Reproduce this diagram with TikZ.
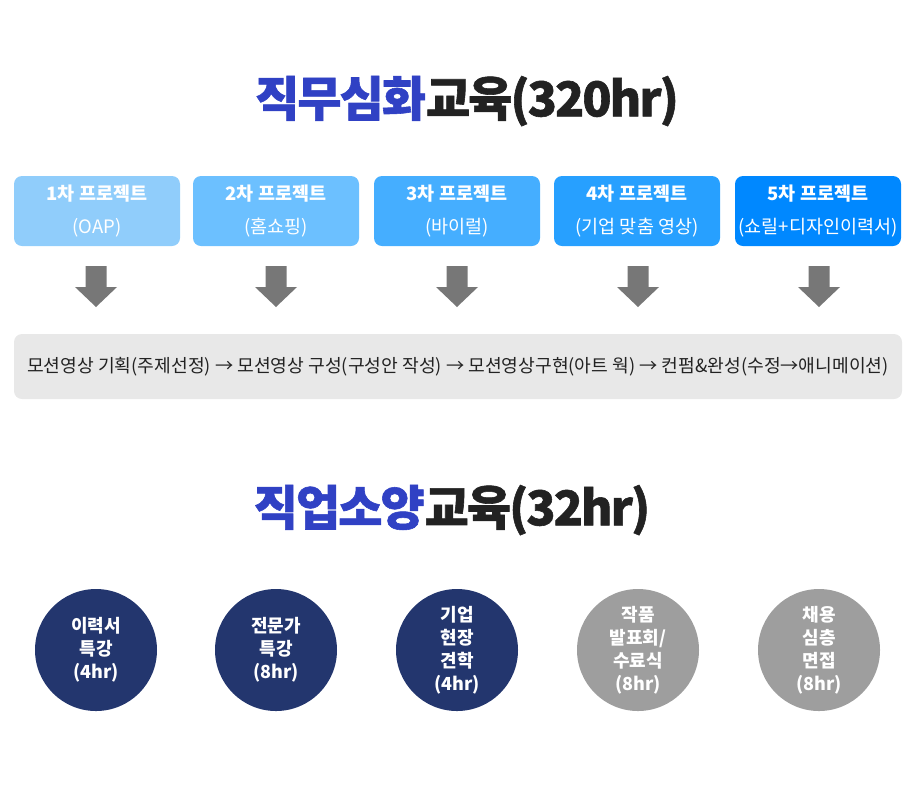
\documentclass[tikz,border=0pt]{standalone}
\usepackage{fontspec}
\setmainfont{Noto Sans CJK KR}
\newfontfamily\titlefont{Noto Sans CJK KR}[LetterSpace=-4, BoldFeatures={FakeBold=1.2}]
\definecolor{titleblue}{HTML}{3041C4}
\definecolor{titleblack}{HTML}{222222}
\definecolor{projA}{HTML}{90CDFB}
\definecolor{projB}{HTML}{6CC0FF}
\definecolor{projC}{HTML}{45AEFF}
\definecolor{projD}{HTML}{27A0FF}
\definecolor{projE}{HTML}{0088FF}
\definecolor{arrowgray}{HTML}{777777}
\definecolor{barfill}{HTML}{E8E8E8}
\definecolor{navy}{HTML}{23366E}
\definecolor{circlegray}{HTML}{9E9E9E}
\tikzset{
  heading/.style={font=\titlefont\bfseries\fontsize{24}{28}\selectfont, text=titleblack},
  project/.style={rounded corners=4pt, minimum width=83pt, minimum height=35pt, inner sep=0pt,
    text=white, align=center, font=\fontsize{9.25}{16.5}\selectfont},
  downarrow/.style={fill=arrowgray},
  course/.style={circle, minimum size=61pt, inner sep=0pt, text=white, align=center,
    font=\bfseries\fontsize{9}{11.5}\selectfont}
}
\begin{document}
\begin{tikzpicture}[x=0.5pt,y=-0.5pt]
\useasboundingbox (0,0) rectangle (920,811);
% first part
\node[heading] (title1) at (467,101) {\textcolor{titleblue}{직무심화}교육(320hr)};
\node[project, fill=projA] (p1) at (97,211) {{\bfseries 1차 프로젝트}\\(OAP)};
\node[project, fill=projB] (p2) at (276,211) {{\bfseries 2차 프로젝트}\\(홈쇼핑)};
\node[project, fill=projC] (p3) at (457,211) {{\bfseries 3차 프로젝트}\\(바이럴)};
\node[project, fill=projD] (p4) at (637,211) {{\bfseries 4차 프로젝트}\\(기업 맞춤 영상)};
\node[project, fill=projE] (p5) at (818,211) {{\bfseries 5차 프로젝트}\\(쇼릴+디자인이력서)};
\fill[downarrow] (96,266) ++(-10.5,0) -- ++(21,0) -- ++(0,21) -- ++(10.5,0) -- ++(-21,20) -- ++(-21,-20) -- ++(10.5,0) -- cycle;
\fill[downarrow] (276,266) ++(-10.5,0) -- ++(21,0) -- ++(0,21) -- ++(10.5,0) -- ++(-21,20) -- ++(-21,-20) -- ++(10.5,0) -- cycle;
\fill[downarrow] (457,266) ++(-10.5,0) -- ++(21,0) -- ++(0,21) -- ++(10.5,0) -- ++(-21,20) -- ++(-21,-20) -- ++(10.5,0) -- cycle;
\fill[downarrow] (638,266) ++(-10.5,0) -- ++(21,0) -- ++(0,21) -- ++(10.5,0) -- ++(-21,20) -- ++(-21,-20) -- ++(10.5,0) -- cycle;
\fill[downarrow] (819,266) ++(-10.5,0) -- ++(21,0) -- ++(0,21) -- ++(10.5,0) -- ++(-21,20) -- ++(-21,-20) -- ++(10.5,0) -- cycle;
\node[fill=barfill, rounded corners=4pt, minimum width=444pt, minimum height=32.5pt, inner sep=0pt,
  text=titleblack, font=\fontsize{9.1}{10}\selectfont] (steps) at (458,366.5)
  {모션영상 기획(주제선정) → 모션영상 구성(구성안 작성) → 모션영상구현(아트 웍) → 컨펌\&완성(수정→애니메이션)};
% second part
\node[heading] (title2) at (452,510) {\textcolor{titleblue}{직업소양}교육(32hr)};
\node[course, fill=navy] (c1) at (96,650) {이력서\\특강\\(4hr)};
\node[course, fill=navy] (c2) at (276,650) {전문가\\특강\\(8hr)};
\node[course, fill=navy] (c3) at (457,650) {기업\\현장\\견학\\(4hr)};
\node[course, fill=circlegray] (c4) at (638,650) {작품\\발표회/\\수료식\\(8hr)};
\node[course, fill=circlegray] (c5) at (819,650) {채용\\심층\\면접\\(8hr)};
\end{tikzpicture}
\end{document}
